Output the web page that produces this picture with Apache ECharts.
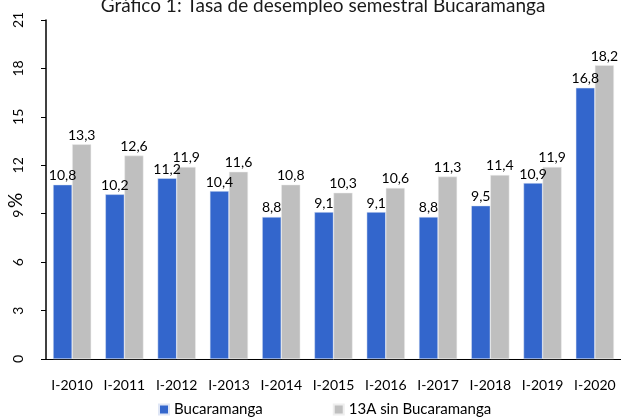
<!DOCTYPE html>
<html>
<head>
<meta charset="utf-8">
<script src="https://cdn.jsdelivr.net/npm/echarts@6/dist/echarts.min.js"></script>
<style>
  html, body { margin: 0; padding: 0; background: #fff; }
  #chart { width: 621px; height: 419px; }
</style>
</head>
<body>
<div id="chart"></div>
<script>
// datos
const categorias = ['I-2010', 'I-2011', 'I-2012', 'I-2013', 'I-2014', 'I-2015', 'I-2016', 'I-2017', 'I-2018', 'I-2019', 'I-2020'];
const bucaramanga = [10.8, 10.2, 11.2, 10.4, 8.8, 9.1, 9.1, 8.8, 9.5, 10.9, 16.8];
const sinBucaramanga = [13.3, 12.6, 11.9, 11.6, 10.8, 10.3, 10.6, 11.3, 11.4, 11.9, 18.2];

const fuente = 'Lato, "Open Sans", sans-serif';
const chart = echarts.init(document.getElementById('chart'));

// etiqueta con coma decimal
const coma = p => String(p.value.toFixed(1)).replace('.', ',');

chart.setOption({
  animation: false,
  textStyle: { fontFamily: fuente, color: '#000' },
  title: {
    text: 'Gráfico 1: Tasa de desempleo semestral Bucaramanga',
    left: 318, top: -9, textAlign: 'center',
    textStyle: { fontSize: 19, fontWeight: 'normal', color: '#1a1a1a', fontFamily: fuente }
  },
  legend: {
    top: 402, left: 158, padding: 0,
    itemWidth: 10, itemHeight: 10, itemGap: 70,
    icon: 'rect',
    textStyle: { fontSize: 15, color: '#000', fontFamily: fuente },
    data: ['Bucaramanga', '13A sin Bucaramanga']
  },
  grid: { left: 46, right: 0, top: 20, bottom: 60, outerBoundsMode: 'none', containLabel: false },
  xAxis: {
    type: 'category',
    data: categorias,
    axisLine: { lineStyle: { color: '#000', width: 1 } },
    axisTick: { show: false },
    axisLabel: { fontSize: 14, color: '#000', margin: 19, interval: 0 }
  },
  yAxis: {
    type: 'value', min: 0, max: 21, interval: 3,
    name: '%', nameLocation: 'middle', nameGap: 21, nameRotate: 90,
    nameMoveOverlap: false,
    nameTextStyle: { fontSize: 19, color: '#000', padding: [0, 22, 0, 0] },
    axisLine: { show: true, lineStyle: { color: '#000', width: 1.5 } },
    axisTick: { show: true, length: 5, lineStyle: { color: '#000' } },
    axisLabel: { rotate: 90, fontSize: 14, color: '#000', margin: 21 },
    splitLine: { show: false }
  },
  series: [
    {
      name: 'Bucaramanga', type: 'bar', data: bucaramanga,
      barGap: 0, barCategoryGap: '27%',
      itemStyle: { color: '#3366CC', borderColor: '#dfe6f5', borderWidth: 0.5 },
      label: { show: true, position: 'top', distance: 2, fontSize: 14, color: '#000', formatter: coma }
    },
    {
      name: '13A sin Bucaramanga', type: 'bar', data: sinBucaramanga,
      barGap: 0, barCategoryGap: '27%',
      itemStyle: { color: '#BFBFBF', borderColor: '#eeeeee', borderWidth: 0.5 },
      label: { show: true, position: 'top', distance: 2, fontSize: 14, color: '#000', formatter: coma }
    }
  ]
});
</script>
</body>
</html>
